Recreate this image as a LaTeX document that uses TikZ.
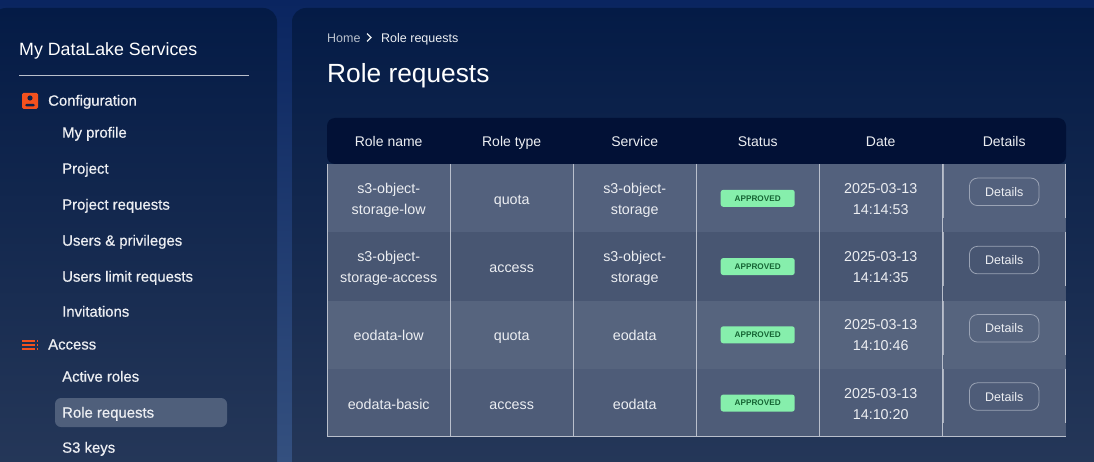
\documentclass[tikz,border=0pt]{standalone}
\usepackage{fontspec}
\usepackage{xcolor}
\setmainfont{Liberation Sans}
\newfontfamily\medfont[FakeBold=0.6]{Liberation Sans}
\usepackage{tikz}
\usetikzlibrary{matrix,positioning}
\definecolor{pagetop}{HTML}{0A2560}
\definecolor{pagebot}{HTML}{34507F}
\definecolor{paneltop}{HTML}{041B46}
\definecolor{panelbot}{HTML}{263859}
\definecolor{headbar}{HTML}{021136}
\definecolor{rowa}{HTML}{53617D}
\definecolor{rowb}{HTML}{485672}
\definecolor{rowc}{HTML}{56647E}
\definecolor{rowd}{HTML}{4E5C78}
\definecolor{gridline}{HTML}{B9BFCC}
\definecolor{thickline}{HTML}{A9B0BE}
\definecolor{iconred}{HTML}{F4511E}
\definecolor{selected}{HTML}{4F5F7B}
\definecolor{badgegreen}{HTML}{86EFAC}
\definecolor{badgetext}{HTML}{166534}
\definecolor{softwhite}{HTML}{ECEEF2}
\definecolor{crumb}{HTML}{B9C0CD}
\definecolor{btnline}{HTML}{9AA3B5}
\newcommand{\twolines}[2]{\lower10pt\vbox{\halign{\hfil##\hfil\cr #1\cr #2\cr}}}
\tikzset{
menuitem/.style={anchor=base west,inner sep=0pt,text=softwhite,font=\medfont\fontsize{14.9}{16}\selectfont},
menuhead/.style={menuitem},
crumbtext/.style={anchor=base west,inner sep=0pt,font=\fontsize{12.5}{14}\selectfont},
badge/.style={fill=badgegreen,rounded corners=2.5pt,minimum width=74pt,minimum height=17pt,inner sep=0pt,
  text=badgetext,font=\bfseries\fontsize{8.2}{10}\selectfont},
detailsbtn/.style={draw=btnline,line width=0.8pt,rounded corners=8pt,minimum width=69.5pt,minimum height=27.5pt,inner sep=0pt,
  text=softwhite,font=\fontsize{12.5}{14}\selectfont},
grid/.style={draw=gridline,line width=0.9pt}
}
\begin{document}
\begin{tikzpicture}[x=1pt,y=-1pt]
\useasboundingbox (0,0) rectangle (1094,462);
\shade[top color=pagetop,bottom color=pagebot] (0,0) rectangle (1094,462);
\shade[top color=paneltop,bottom color=panelbot,rounded corners=14pt] (-8,8) -- (277,8) -- (277,480) -- (-8,480) -- cycle;
\shade[top color=paneltop,bottom color=panelbot,rounded corners=14pt] (292,8) -- (1110,8) -- (1110,480) -- (292,480) -- cycle;
\node[anchor=base west,inner sep=0pt,text=white,font=\fontsize{17.8}{20}\selectfont] (sidetitle) at (19,55.2) {My DataLake Services};
\draw[gridline] (19,75.5) -- (249,75.5);
\fill[selected,rounded corners=6pt] (55,398) rectangle (227,427);
\node[menuhead] (config) at (48,105.7) {Configuration};
\node[menuhead] (access) at (48,349.5) {Access};
\foreach \y/\nm/\lab in {137.7/profile/My profile,173.7/project/Project,209.7/projreq/Project requests,245.7/users/Users \& privileges,281.7/limits/Users limit requests,316.7/invites/Invitations,381.7/active/Active roles,417.7/rolereq/Role requests,452.7/keys/S3 keys}
  \node[menuitem] (\nm) at (62,\y) {\lab};
\fill[iconred,rounded corners=1.5pt] (22,93) rectangle (38,109);
\fill[paneltop!80!panelbot] (30,98) circle (2.6pt);
\fill[paneltop!80!panelbot,rounded corners=1.5pt] (25,106.5) -- (25,104) -- (35,104) -- (35,106.5) -- cycle;
\foreach \y in {341,345,349}{
  \fill[iconred] (22,\y-0.8) rectangle (35,\y+0.8);
  \fill[iconred] (37,\y-0.8) rectangle (38,\y+0.8);
}
\node[crumbtext,text=crumb] (home) at (327,42.4) {Home};
\draw[softwhite,line width=1.1pt] (367,33.5) -- (371,37.5) -- (367,41.5);
\node[crumbtext,text=softwhite] (crumbrole) at (381,42.4) {Role requests};
\node[anchor=base west,inner sep=0pt,text=white,font=\fontsize{26.3}{30}\selectfont] (pagetitle) at (327,82.5) {Role requests};
\fill[headbar,rounded corners=8pt] (327,164) -- (327,118) -- (1066,118) -- (1066,164) -- cycle;
\matrix(m)[matrix of nodes,nodes in empty cells,anchor=north west,row sep=0pt,column sep=0pt,inner sep=0pt,
nodes={anchor=center,inner sep=0pt,minimum width=123pt,minimum height=68.25pt,text=softwhite,
text height=12pt,text depth=0pt,font=\fontsize{14.3}{21}\selectfont},
column 6/.style={nodes={minimum width=124pt}},
row 1/.style={nodes={minimum height=46pt,text height=10pt,font=\fontsize{14}{21}\selectfont}},
row 2/.style={nodes={fill=rowa}},
row 3/.style={nodes={fill=rowb}},
row 4/.style={nodes={fill=rowc}},
row 5/.style={nodes={fill=rowd}}] at (327,118)
{Role name&Role type&Service&Status&Date&Details\\
\twolines{s3-object-}{storage-low}&quota&\twolines{s3-object-}{storage}&&\twolines{2025-03-13}{14:14:53}&\\
\twolines{s3-object-}{storage-access}&access&\twolines{s3-object-}{storage}&&\twolines{2025-03-13}{14:14:35}&\\
eodata-low&quota&eodata&&\twolines{2025-03-13}{14:10:46}&\\
eodata-basic&access&eodata&&\twolines{2025-03-13}{14:10:20}&\\};
\foreach \r in {2,...,5}{
  \node[badge] (badge\r) at (m-\r-4) {APPROVED};
  \node[detailsbtn] (btn\r) at ([yshift=6.5pt]m-\r-6) {Details};
  \draw[draw=thickline,line width=1.6pt] ([xshift=0.5pt]m-\r-5.north east) -- ++(0,54);
  \draw[grid] (m-\r-6.north east) ++(-0.5,0) -- ++(0,54);
}
\foreach \c in {1,...,5}
  \draw[grid] (m-2-\c.north east) -- (m-5-\c.south east);
\draw[grid] ([xshift=0.5pt]m-2-1.north west) -- ([xshift=0.5pt]m-5-1.south west);
\draw[grid] ([yshift=0.5pt]m-5-1.south west) -- ([yshift=0.5pt]m-5-6.south east);
\end{tikzpicture}
\end{document}
